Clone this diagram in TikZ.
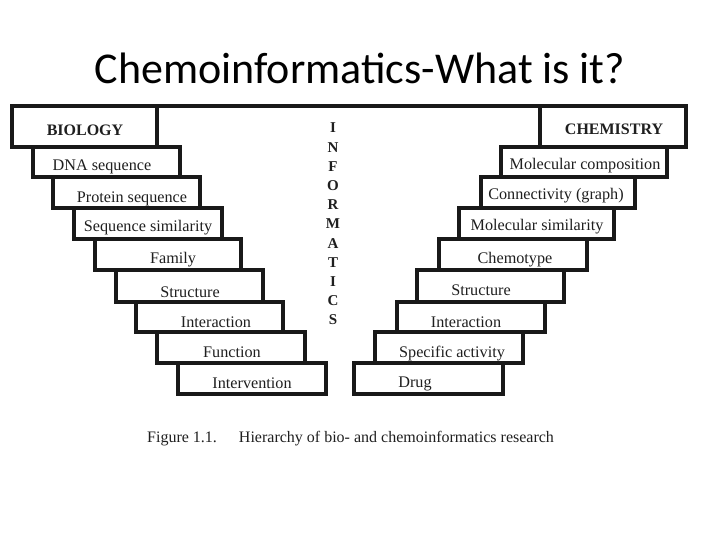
\documentclass[tikz,border=0pt]{standalone}
\usepackage{fontspec}
\setmainfont{Liberation Serif}
\newfontfamily\titlefont{Carlito}
\usetikzlibrary{fit}
\tikzset{
  box/.style={draw=black!90, line width=3.2pt, inner sep=0pt, outer sep=0pt},
  lbl/.style={anchor=base, inner sep=0pt, font=\fontsize{16.2}{18}\selectfont, text=black!88},
  hdr/.style={anchor=base, inner sep=0pt, font=\fontsize{16}{18}\selectfont\bfseries, text=black!88},
  vlet/.style={anchor=center, inner sep=0pt, font=\fontsize{15}{17}\selectfont\bfseries, text=black!88},
  edge/.style={draw=black!90, line width=3.2pt}
}
\begin{document}
\begin{tikzpicture}[x=1pt,y=-1pt]
\fill[white] (0,0) rectangle (720,540);
\useasboundingbox (0,0) rectangle (720,540);
% title
\node[anchor=base, inner sep=0pt, font=\titlefont\fontsize{44}{50}\selectfont] (title) at (360,84) {Chemoinformatics-What is it?};
% left staircase
\node[box, fit={(12,106) (157,147)}] (bio) {};
\node[box, fit={(33,147) (180,177)}] (dna) {};
\node[box, fit={(53,177) (200,208)}] (prot) {};
\node[box, fit={(74,208) (222,239)}] (seqsim) {};
\node[box, fit={(95,239) (241,270)}] (fam) {};
\node[box, fit={(116,270) (263,302)}] (struc) {};
\node[box, fit={(136,302) (283,332)}] (inter) {};
\node[box, fit={(157,332) (305,363)}] (func) {};
\node[box, fit={(178,363) (326,394)}] (interv) {};
% right staircase
\node[box, fit={(540,106) (686,147)}] (chem) {};
\node[box, fit={(501,147) (667,177)}] (molc) {};
\node[box, fit={(481,177) (635,208)}] (conn) {};
\node[box, fit={(459,208) (614,239)}] (molsim) {};
\node[box, fit={(439,239) (587,270)}] (chemo) {};
\node[box, fit={(417,270) (564,302)}] (rstruc) {};
\node[box, fit={(397,302) (545,332)}] (rinter) {};
\node[box, fit={(375,332) (523,363)}] (spec) {};
\node[box, fit={(354,363) (503,394)}] (drug) {};
% top line
\draw[edge] (bio.north east) -- (chem.north west);
% left labels
\node[hdr] (bioT) at (85,136) {BIOLOGY};
\node[lbl] (dnaT) at (102,171) {DNA sequence};
\node[lbl] (protT) at (132,203) {Protein sequence};
\node[lbl] (seqsimT) at (148,232) {Sequence similarity};
\node[lbl] (famT) at (173,263) {Family};
\node[lbl] (strucT) at (190,297) {Structure};
\node[lbl] (interT) at (216,327) {Interaction};
\node[lbl] (funcT) at (232,357) {Function};
\node[lbl] (intervT) at (252,388) {Intervention};
% right labels
\node[hdr] (chemT) at (614,135) {CHEMISTRY};
\node[lbl] (molcT) at (585,170) {Molecular composition};
\node[lbl] (connT) at (556,200) {Connectivity (graph)};
\node[lbl] (molsimT) at (537,230) {Molecular similarity};
\node[lbl] (chemoT) at (515,263) {Chemotype};
\node[lbl] (rstrucT) at (481,295) {Structure};
\node[lbl] (rinterT) at (466,327) {Interaction};
\node[lbl] (specT) at (452,357) {Specific activity};
\node[lbl] (drugT) at (415,387) {Drug};
% INFORMATICS
\foreach \ch [count=\i from 0] in {I,N,F,O,R,M,A,T,I,C,S} {
  \node[vlet] (inf\i) at (333,128+19.2*\i) {\ch};
}
% caption
\node[anchor=base west, inner sep=0pt, font=\fontsize{16}{18}\selectfont, text=black!88] (cap) at (147,442) {Figure 1.1.\hspace{22pt}Hierarchy of bio- and chemoinformatics research};
\end{tikzpicture}
\end{document}
